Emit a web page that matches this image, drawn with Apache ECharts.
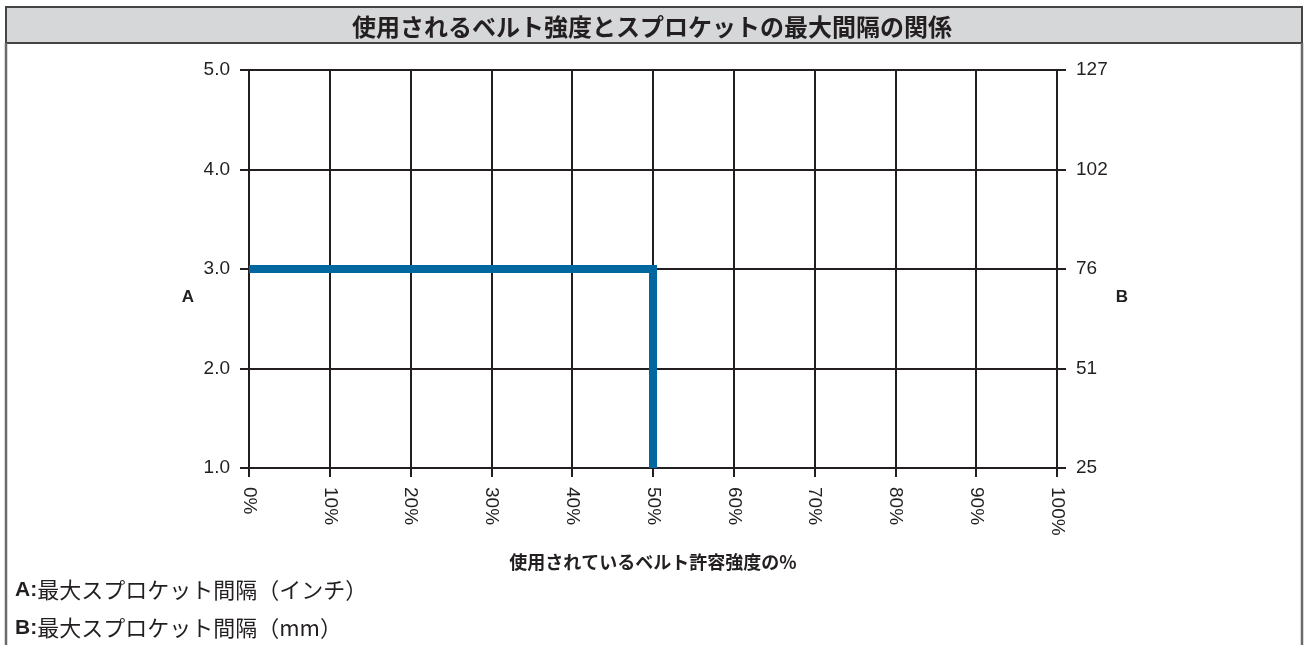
<!DOCTYPE html>
<html><head><meta charset="utf-8">
<script src="https://cdn.jsdelivr.net/npm/echarts@6/dist/echarts.min.js"></script>
<style>html,body{margin:0;padding:0;background:#fff}#c{width:1304px;height:645px}</style>
</head><body><div id="c"></div><script>
const titleText = '使用されるベルト強度とスプロケットの最大間隔の関係';
const xAxisName = '使用されているベルト許容強度の%';
const leftAxisName = 'A';
const rightAxisName = 'B';
const leftTickLabels = ['1.0', '2.0', '3.0', '4.0', '5.0'];
const rightTickLabels = ['25', '51', '76', '102', '127'];
const lineX = [0, 50, 50];
const lineY = [3, 3, 1];
const noteA = ['A:', '最大スプロケット間隔（インチ）'];
const noteB = ['B:', '最大スプロケット間隔（mm）'];

const INK = '#231f20';
const LAT = '"Liberation Sans", Arial, Helvetica, sans-serif';
const CJK = '"Noto Sans CJK JP", "Noto Sans", sans-serif';

const chart = echarts.init(document.getElementById('c'));
const axisCommon = {
  type: 'value', min: 1, max: 5, interval: 1,
  axisLine: {show: true, lineStyle: {color: INK, width: 2}},
  axisTick: {show: true, length: 9, inside: false, lineStyle: {color: INK, width: 2}}
};
const tickFont = {fontFamily: LAT, fontSize: 19, color: INK};
const axisNameStyle = {fontFamily: LAT, fontWeight: 'bold', fontSize: 17, fill: INK, align: 'center', verticalAlign: 'middle'};
chart.setOption({
  animation: false,
  title: {
    text: titleText, left: 'center', top: 10,
    textStyle: {fontFamily: CJK, fontWeight: 'bold', fontSize: 24, color: INK}
  },
  graphic: [
    {type: 'rect', z: -1, shape: {x: 6, y: 7, width: 1296, height: 36}, style: {fill: '#d6d7d9', stroke: '#444', lineWidth: 2}},
    {type: 'line', z: -1, shape: {x1: 6, y1: 43, x2: 6, y2: 645}, style: {stroke: '#6a6a6a', lineWidth: 2.5}},
    {type: 'line', z: -1, shape: {x1: 1302, y1: 43, x2: 1302, y2: 645}, style: {stroke: '#6a6a6a', lineWidth: 2.5}},
    {type: 'text', x: 188, y: 297, style: Object.assign({text: leftAxisName}, axisNameStyle)},
    {type: 'text', x: 1122, y: 297, style: Object.assign({text: rightAxisName}, axisNameStyle)},
    {type: 'text', left: 15, top: 579, style: {
      text: '{b|' + noteA[0] + '}{n|' + noteA[1] + '}',
      rich: {b: {fontFamily: LAT, fontWeight: 'bold', fontSize: 21, fill: INK}, n: {fontFamily: CJK, fontSize: 22, fill: INK}}
    }},
    {type: 'text', left: 15, top: 617, style: {
      text: '{b|' + noteB[0] + '}{n|' + noteB[1] + '}',
      rich: {b: {fontFamily: LAT, fontWeight: 'bold', fontSize: 21, fill: INK}, n: {fontFamily: CJK, fontSize: 22, fill: INK}}
    }}
  ],
  grid: {left: 249, right: 247, top: 70, bottom: 177, containLabel: false},
  xAxis: {
    type: 'value', min: 0, max: 100, interval: 10,
    axisLine: {show: true, lineStyle: {color: INK, width: 2}},
    axisTick: {show: true, length: 9, lineStyle: {color: INK, width: 2}},
    splitLine: {show: true, lineStyle: {color: INK, width: 2}},
    axisLabel: Object.assign({rotate: -90, margin: 19, formatter: '{value}%'}, tickFont),
    name: xAxisName, nameLocation: 'middle', nameGap: 85,
    nameTextStyle: {fontFamily: CJK, fontWeight: 'bold', fontSize: 18, color: INK}
  },
  yAxis: [
    Object.assign({}, axisCommon, {
      position: 'left',
      splitLine: {show: true, lineStyle: {color: INK, width: 2}},
      axisLabel: Object.assign({margin: 19, formatter: v => leftTickLabels[Math.round(v) - 1]}, tickFont)
    }),
    Object.assign({}, axisCommon, {
      position: 'right',
      splitLine: {show: false},
      axisLabel: Object.assign({margin: 19, formatter: v => rightTickLabels[Math.round(v) - 1]}, tickFont)
    })
  ],
  series: [{
    type: 'line', yAxisIndex: 0, z: 10,
    data: lineX.map((x, i) => [x, lineY[i]]),
    symbol: 'none', silent: true,
    lineStyle: {color: '#0067a0', width: 8, join: 'miter', cap: 'butt'}
  }]
});
</script></body></html>
